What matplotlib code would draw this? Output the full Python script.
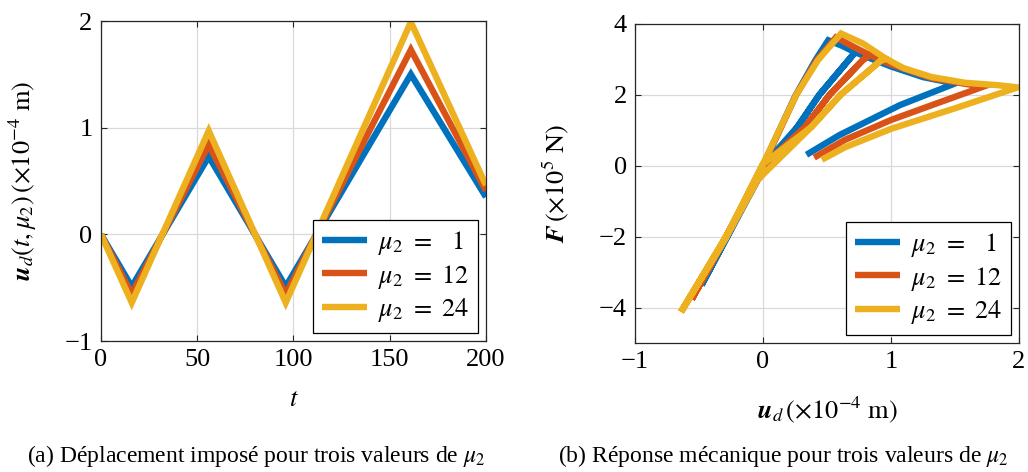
import matplotlib
matplotlib.use("Agg")
import matplotlib.pyplot as plt

plt.rcParams["font.family"] = ["Liberation Serif", "DejaVu Serif"]
plt.rcParams["mathtext.fontset"] = "stix"

# ---------------------------------------------------------------------------
# Data
# ---------------------------------------------------------------------------

LABELS = [r"$\mu_2\ =\ \enspace1$", r"$\mu_2\ =\ 12$", r"$\mu_2\ =\ 24$"]
COLOURS = ["#0072BD", "#D95319", "#EDB120"]

# (a) imposed displacement vs t
T_POINTS = [0, 16, 56, 96, 161, 200]
UD_MU1 = [0, -0.49, 0.73, -0.49, 1.50, 0.35]
UD_MU12 = [0, -0.56, 0.84, -0.56, 1.73, 0.41]
UD_MU24 = [0, -0.64, 0.97, -0.64, 1.99, 0.46]

# (b) force vs displacement
U_MU1 = [0, -0.26, -0.48, -0.26, 0, 0.25, 0.41, 0.51, 0.62, 0.72,
         0.44, 0.27, -0.04, -0.27, -0.48,
         -0.26, 0, 0.27, 0.44, 0.72, 1.0, 1.25, 1.50,
         1.07, 0.60, 0.34]
F_MU1 = [0, -1.85, -3.36, -1.85, 0, 1.95, 2.98, 3.54, 3.38, 3.20,
         2.00, 1.10, -0.39, -1.95, -3.36,
         -1.85, 0, 1.10, 2.00, 3.20, 2.80, 2.50, 2.32,
         1.71, 0.87, 0.31]

U_MU12 = [0, -0.28, -0.556, -0.28, 0, 0.26, 0.42, 0.57, 0.70, 0.834,
          0.78, 0.52, 0.33, -0.04, -0.29, -0.556,
          -0.28, 0, 0.33, 0.52, 0.78, 0.834, 1.0, 1.32, 1.58, 1.72,
          1.32, 1.0, 0.64, 0.40]
F_MU12 = [0, -1.95, -3.76, -1.95, 0, 2.00, 2.98, 3.62, 3.37, 3.12,
          2.98, 2.00, 1.10, -0.39, -2.00, -3.76,
          -1.95, 0, 1.10, 2.00, 2.98, 3.12, 2.86, 2.47, 2.31, 2.23,
          1.71, 1.29, 0.73, 0.23]

U_MU24 = [0, -0.28, -0.64, -0.28, 0, 0.26, 0.43, 0.61, 0.78, 0.96,
          0.925, 0.606, 0.38, -0.04, -0.30, -0.64,
          -0.28, 0, 0.38, 0.606, 0.925, 0.96, 1.10, 1.32, 1.58, 1.84, 1.99,
          1.50, 1.0, 0.64, 0.46]
F_MU24 = [0, -1.95, -4.12, -1.95, 0.05, 2.00, 2.98, 3.73, 3.45, 3.02,
          2.98, 2.00, 1.10, -0.39, -2.10, -4.12,
          -1.95, 0.05, 1.10, 2.00, 2.98, 3.02, 2.75, 2.50, 2.34, 2.27, 2.21,
          1.62, 1.04, 0.52, 0.17]

# ---------------------------------------------------------------------------
# Plotting
# ---------------------------------------------------------------------------

FS = 19
LW = 4.6


def style_axes(ax):
    ax.grid(True, color="#d9d9d9", linewidth=0.9)
    ax.set_axisbelow(True)
    ax.tick_params(direction="in", top=True, right=True, length=4,
                   width=0.8, color="#262626", labelsize=FS, pad=6)
    for spine in ax.spines.values():
        spine.set_edgecolor("#262626")
        spine.set_linewidth(0.9)


def add_legend(ax):
    leg = ax.legend(loc="lower right", fontsize=FS, frameon=True,
                    fancybox=False, edgecolor="black", framealpha=1,
                    handlelength=1.7, handletextpad=0.4, labelspacing=0.2,
                    borderpad=0.35, borderaxespad=0.3)
    leg.get_frame().set_linewidth(0.9)


fig = plt.figure(figsize=(10.28, 4.72), dpi=100)
ax1 = fig.add_axes([0.0982, 0.2775, 0.3745, 0.678])
ax2 = fig.add_axes([0.6177, 0.2733, 0.3735, 0.676])

line_kw = dict(linewidth=LW, solid_joinstyle="miter", solid_capstyle="butt")

for ud, colour, label in zip([UD_MU1, UD_MU12, UD_MU24], COLOURS, LABELS):
    ax1.plot(T_POINTS, ud, color=colour, label=label, **line_kw)

ax1.set_xlim(0, 200)
ax1.set_ylim(-1, 2)
ax1.set_xticks([0, 50, 100, 150, 200])
ax1.set_yticks([-1, 0, 1, 2])
ax1.set_xlabel(r"$t$", fontsize=FS, labelpad=13)
ax1.set_ylabel(r"$\mathbfit{u}_d(t,\mu_2)\,(\times10^{-4}\ \mathrm{m})$",
               fontsize=FS, labelpad=18)
style_axes(ax1)
add_legend(ax1)

for u, f, colour, label in zip([U_MU1, U_MU12, U_MU24],
                               [F_MU1, F_MU12, F_MU24], COLOURS, LABELS):
    ax2.plot(u, f, color=colour, label=label, **line_kw)

ax2.set_xlim(-1, 2)
ax2.set_ylim(-5, 4)
ax2.set_xticks([-1, 0, 1, 2])
ax2.set_yticks([-4, -2, 0, 2, 4])
ax2.set_xlabel(r"$\mathbfit{u}_d\,(\times10^{-4}\ \mathrm{m})$",
               fontsize=FS, labelpad=15)
ax2.set_ylabel(r"$\mathbfit{F}\,(\times10^{5}\ \mathrm{N})$",
               fontsize=FS, labelpad=20)
style_axes(ax2)
add_legend(ax2)

fig.text(0.249, 0.006, r"(a) Déplacement imposé pour trois valeurs de $\mu_2$",
         ha="center", va="bottom", fontsize=17)
fig.text(0.762, 0.006, r"(b) Réponse mécanique pour trois valeurs de $\mu_2$",
         ha="center", va="bottom", fontsize=17)

fig.savefig("out.png", dpi=100)
